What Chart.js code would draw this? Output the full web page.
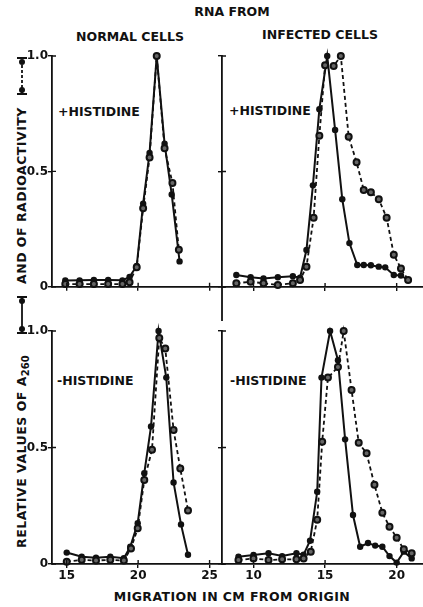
<!DOCTYPE html>
<html>
<head>
<meta charset="utf-8">
<script src="https://cdn.jsdelivr.net/npm/chart.js@4.4.1/dist/chart.umd.min.js"></script>
<style>
  html, body { margin: 0; padding: 0; background: #fff; }
  body { width: 423px; height: 607px; position: relative; overflow: hidden;
         font-family: "DejaVu Sans", sans-serif; color: #111; font-weight: bold; }
  canvas { position: absolute; }
  .lbl { position: absolute; font-size: 12.5px; white-space: nowrap;
         transform: translate(-50%, -50%); line-height: 1; }
  .side { position: absolute; font-size: 12.5px; white-space: nowrap;
          transform: translateY(-50%); line-height: 1; }
  #ytitle { position: absolute; left: -228px; top: 292px; width: 500px; height: 16px;
            transform: rotate(-90deg); font-size: 12.5px; letter-spacing: 0.5px; }
  #ytitle > * { position: absolute; top: 0; line-height: 16px; white-space: nowrap; }
  sub { font-size: 10px; letter-spacing: 0; vertical-align: -3px; }
</style>
</head>
<body>

<div class="lbl" style="left:232px; top:12px;">RNA FROM</div>
<div class="lbl" style="left:130px; top:37px;">NORMAL CELLS</div>
<div class="lbl" style="left:320px; top:35px;">INFECTED CELLS</div>

<div class="side" style="left:58px;  top:112px;">+HISTIDINE</div>
<div class="side" style="left:229px; top:111px;">+HISTIDINE</div>
<div class="side" style="left:57px;  top:381px;">-HISTIDINE</div>
<div class="side" style="left:230px; top:381px;">-HISTIDINE</div>

<div class="lbl" style="left:232px; top:597px; letter-spacing:0.4px;">MIGRATION IN CM FROM ORIGIN</div>

<div id="ytitle">
  <span style="left:2px;">RELATIVE VALUES OF A<sub>260</sub></span>
  <svg style="left:214px; top:2px;" width="42" height="12">
    <line x1="4" y1="6" x2="38" y2="6" stroke="#111" stroke-width="1.8"/>
    <line x1="3" y1="1" x2="3" y2="11" stroke="#111" stroke-width="1.8"/>
    <line x1="39" y1="1" x2="39" y2="11" stroke="#111" stroke-width="1.8"/>
    <circle cx="7" cy="6" r="3" fill="#111"/>
    <circle cx="35" cy="6" r="3" fill="#111"/>
  </svg>
  <span style="left:266px;">AND OF RADIOACTIVITY</span>
  <svg style="left:453px; top:2px;" width="42" height="12">
    <line x1="4" y1="6" x2="38" y2="6" stroke="#111" stroke-width="1.8" stroke-dasharray="3 2"/>
    <line x1="3" y1="1" x2="3" y2="11" stroke="#111" stroke-width="1.8"/>
    <line x1="39" y1="1" x2="39" y2="11" stroke="#111" stroke-width="1.8"/>
    <circle cx="7" cy="6" r="3" fill="#111"/>
    <circle cx="35" cy="6" r="3" fill="#111"/>
  </svg>
</div>

<canvas id="tl"></canvas>
<canvas id="tr"></canvas>
<canvas id="bl"></canvas>
<canvas id="br"></canvas>

<script>
// ── Data: migration (cm) and relative values ───────────────────────────
// normal cells, +histidine
const normPlusA260X  = [14.9, 15.9, 16.9, 17.9, 18.9, 19.4, 19.9, 20.35, 20.8, 21.3, 21.85, 22.35, 22.9];
const normPlusA260   = [0.027, 0.028, 0.03, 0.03, 0.028, 0.043, 0.09, 0.36, 0.58, 1.0, 0.62, 0.40, 0.11];
const normPlusRadioX = [14.9, 15.9, 16.9, 17.9, 18.9, 19.4, 19.9, 20.35, 20.8, 21.3, 21.85, 22.4, 22.85];
const normPlusRadio  = [0.012, 0.012, 0.012, 0.012, 0.012, 0.02, 0.085, 0.34, 0.56, 1.0, 0.6, 0.45, 0.16];

// infected cells, +histidine
const infPlusA260X  = [8.8, 9.8, 10.7, 11.7, 12.75, 13.25, 13.7, 14.15, 14.6, 15.15, 15.7, 16.2, 16.7, 17.25, 17.7, 18.2, 18.75, 19.2, 19.8, 20.3, 20.8];
const infPlusA260   = [0.052, 0.042, 0.037, 0.042, 0.047, 0.04, 0.16, 0.44, 0.77, 1.0, 0.68, 0.38, 0.19, 0.095, 0.095, 0.094, 0.088, 0.085, 0.052, 0.05, 0.03];
const infPlusRadioX = [8.8, 9.8, 10.7, 11.7, 12.75, 13.25, 13.7, 14.2, 14.6, 15.0, 15.6, 16.1, 16.65, 17.2, 17.7, 18.2, 18.75, 19.3, 19.8, 20.3, 20.8];
const infPlusRadio  = [0.016, 0.023, 0.016, 0.009, 0.016, 0.03, 0.088, 0.30, 0.655, 0.96, 0.957, 1.0, 0.65, 0.54, 0.42, 0.41, 0.38, 0.30, 0.14, 0.08, 0.03];

// normal cells, -histidine
const normMinusA260X  = [15.0, 16.05, 17.05, 18.05, 19.0, 19.45, 19.97, 20.43, 20.9, 21.43, 21.97, 22.48, 23.0, 23.49];
const normMinusA260   = [0.049, 0.031, 0.027, 0.031, 0.025, 0.074, 0.175, 0.39, 0.59, 1.0, 0.80, 0.35, 0.17, 0.04];
const normMinusRadioX = [15.0, 16.05, 17.05, 18.05, 19.0, 19.5, 19.97, 20.43, 20.97, 21.48, 21.9, 22.48, 22.95, 23.49];
const normMinusRadio  = [0.01, 0.018, 0.015, 0.018, 0.015, 0.067, 0.153, 0.36, 0.49, 0.97, 0.925, 0.575, 0.41, 0.23];

// infected cells, -histidine
const infMinusA260X  = [8.95, 10.0, 11.05, 12.0, 13.0, 13.5, 13.95, 14.45, 14.75, 15.35, 15.9, 16.4, 16.95, 17.45, 18.0, 18.5, 19.0, 19.5, 20.0, 20.5, 21.05];
const infMinusA260   = [0.031, 0.039, 0.046, 0.034, 0.046, 0.04, 0.10, 0.31, 0.80, 1.0, 0.875, 0.535, 0.21, 0.074, 0.09, 0.079, 0.074, 0.034, 0.006, 0.053, 0.024];
const infMinusRadioX = [8.95, 10.0, 11.05, 12.0, 13.0, 13.5, 14.0, 14.45, 14.8, 15.2, 15.9, 16.3, 16.85, 17.35, 17.9, 18.45, 19.0, 19.5, 20.0, 20.5, 21.05];
const infMinusRadio  = [0.017, 0.024, 0.017, 0.02, 0.02, 0.024, 0.053, 0.19, 0.525, 0.80, 0.845, 1.0, 0.747, 0.52, 0.475, 0.34, 0.22, 0.16, 0.113, 0.063, 0.046];

// tick values
const yTicks      = [0, 0.5, 1.0];
const normalTicks = [15, 20, 25];
const infectTicks = [10, 15, 20];

// ── helpers ──────────────────────────────────────────────────────────
const pts = (xs, ys) => xs.map((x, i) => ({ x, y: ys[i] }));
const INK = "#111";

// short inward tick marks so the ticks cross the axis like the original,
// plus the bit of y axis that runs on below the upper right panel
const crossTicks = {
  id: "crossTicks",
  afterDraw(chart, args, opts) {
    const { ctx, chartArea: a, scales: { x, y } } = chart;
    ctx.save();
    ctx.strokeStyle = INK;
    ctx.lineWidth = 1.4;
    ctx.beginPath();
    x.ticks.forEach(t => {
      const px = x.getPixelForValue(t.value);
      ctx.moveTo(px, a.bottom); ctx.lineTo(px, a.bottom - 4);
    });
    y.ticks.forEach(t => {
      const py = y.getPixelForValue(t.value);
      ctx.moveTo(a.left, py); ctx.lineTo(a.left + 4, py);
    });
    ctx.stroke();
    if (opts.tail) {
      ctx.lineWidth = 1.8;
      ctx.beginPath();
      ctx.moveTo(a.left, a.bottom);
      ctx.lineTo(a.left, a.bottom + opts.tail);
      ctx.stroke();
    }
    ctx.restore();
  }
};

// area = chart area in page pixels; yW / xH = room for the axes
function panel(id, area, xRange, xTicks, a260, radio, yLabels, xLabels, tail) {
  const yW = yLabels ? 40 : 6;
  const xH = xLabels ? 20 : (tail ? tail + 2 : 6);
  const padT = 10;
  const cv = document.getElementById(id);
  const w = area.r - area.l + yW, h = area.b - area.t + padT + xH;
  cv.width = w; cv.height = h;
  cv.style.left = (area.l - yW) + "px";
  cv.style.top  = (area.t - padT) + "px";
  cv.style.width = w + "px"; cv.style.height = h + "px";

  const tickFont = { family: "DejaVu Sans", size: 12, weight: "bold" };

  return new Chart(cv.getContext("2d"), {
    type: "line",
    data: {
      datasets: [
        {
          label: "Radioactivity",
          data: radio,
          borderColor: INK,
          borderWidth: 1.8,
          borderDash: [4, 3],
          pointRadius: 3,
          pointBorderWidth: 2,
          pointBackgroundColor: "#666",
          pointBorderColor: INK,
          tension: 0,
          clip: false
        },
        {
          label: "A260",
          data: a260,
          borderColor: INK,
          borderWidth: 2,
          pointRadius: 3.2,
          pointBorderWidth: 0,
          pointBackgroundColor: INK,
          tension: 0,
          clip: false
        }
      ]
    },
    options: {
      responsive: false,
      animation: false,
      devicePixelRatio: 1,
      layout: { autoPadding: false, padding: { top: padT, left: 0, right: 0, bottom: 0 } },
      plugins: {
        legend: { display: false },
        tooltip: { enabled: false },
        crossTicks: { tail: tail || 0 }
      },
      scales: {
        x: {
          type: "linear",
          min: xRange[0], max: xRange[1],
          afterBuildTicks: s => { s.ticks = xTicks.map(v => ({ value: v })); },
          afterFit: s => { s.height = xH; },
          border: { color: INK, width: 1.8 },
          grid: { drawOnChartArea: false, color: INK, lineWidth: 1.4, tickLength: 4 },
          ticks: { display: xLabels, padding: 1, color: INK, font: tickFont, maxRotation: 0 }
        },
        y: {
          min: 0, max: 1,
          afterBuildTicks: s => { s.ticks = yTicks.map(v => ({ value: v })); },
          afterFit: s => { s.width = yW; },
          border: { color: INK, width: 1.8 },
          grid: { drawOnChartArea: false, color: INK, lineWidth: 1.4, tickLength: 4 },
          ticks: {
            display: yLabels, padding: 0, color: INK, font: tickFont,
            callback: v => (v === 0 ? "0" : v.toFixed(1))
          }
        }
      }
    },
    plugins: [crossTicks]
  });
}

panel("tl", { l: 52,  r: 225, t: 56,  b: 288 }, [13.97, 26.08], normalTicks,
      pts(normPlusA260X, normPlusA260), pts(normPlusRadioX, normPlusRadio), true, false);
panel("tr", { l: 222, r: 423, t: 56,  b: 287 }, [7.8, 21.84], infectTicks,
      pts(infPlusA260X, infPlusA260), pts(infPlusRadioX, infPlusRadio), false, false, 34);
panel("bl", { l: 52,  r: 225, t: 331, b: 564 }, [13.97, 26.08], normalTicks,
      pts(normMinusA260X, normMinusA260), pts(normMinusRadioX, normMinusRadio), true, true);
panel("br", { l: 222, r: 423, t: 331, b: 564 }, [7.8, 21.84], infectTicks,
      pts(infMinusA260X, infMinusA260), pts(infMinusRadioX, infMinusRadio), false, true);
</script>
</body>
</html>
